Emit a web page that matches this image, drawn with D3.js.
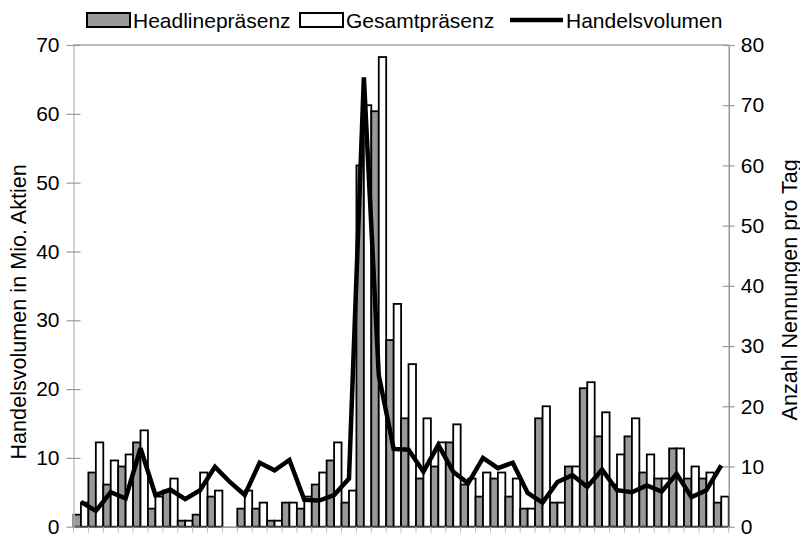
<!DOCTYPE html>
<html>
<head>
<meta charset="utf-8">
<script src="https://cdn.jsdelivr.net/npm/d3@7"></script>
<style>
  html, body { margin: 0; padding: 0; background: #fff; }
  svg { display: block; font-family: "Liberation Sans", Arial, sans-serif; }
</style>
</head>
<body>
<svg id="chart" width="800" height="534"></svg>
<script>
// ---- data ----
const categories = d3.range(1, 45).map(String);
const headline = [2, 9, 7, 10, 14, 3, 6, 1, 2, 5, 0, 3, 3, 1, 4, 3, 7, 11, 4, 60, 69, 31, 18, 8, 10, 14, 7, 5, 8, 5, 3, 18, 4, 10, 23, 15, 7, 15, 9, 8, 13, 8, 8, 4];
const gesamt   = [4, 14, 11, 12, 16, 5, 8, 1, 9, 6, 0, 6, 4, 1, 4, 5, 9, 14, 6, 70, 78, 37, 27, 18, 14, 17, 8, 9, 9, 8, 3, 20, 4, 10, 24, 19, 12, 18, 12, 8, 13, 10, 9, 5];
const volumen  = [3.6, 2.3, 5.0, 4.1, 11.4, 4.6, 5.4, 4.0, 5.3, 8.7, 6.5, 4.6, 9.3, 8.2, 9.7, 3.9, 3.8, 4.6, 7.0, 65.3, 22.0, 11.3, 11.2, 8.0, 11.9, 8.0, 6.3, 10.0, 8.5, 9.3, 4.9, 3.5, 6.5, 7.5, 5.8, 8.3, 5.3, 5.0, 6.0, 5.1, 7.7, 4.3, 5.3, 8.9];
const leftTicks  = [0, 10, 20, 30, 40, 50, 60, 70];
const rightTicks = [0, 10, 20, 30, 40, 50, 60, 70, 80];
const seriesNames = ["Headlinepräsenz", "Gesamtpräsenz", "Handelsvolumen"];
const leftTitle = "Handelsvolumen in Mio. Aktien";
const rightTitle = "Anzahl Nennungen pro Tag";

// ---- layout ----
const svg = d3.select("#chart");
const X0 = 73.5, X1 = 728.7, Y0 = 526.7, Y1 = 45;
const fs = 21;
const tfs = 21.6;
const axisColor = "#9a9a9a";

const x = d3.scaleBand().domain(categories).range([X0, X1]).paddingInner(0).paddingOuter(0);
const xs = d3.scaleBand().domain(["h", "g"]).range([0, x.bandwidth()]).padding(0);
const yL = d3.scaleLinear().domain([0, 70]).range([Y0, Y1]);
const yR = d3.scaleLinear().domain([0, 80]).range([Y0, Y1]);

// top border
svg.append("line").attr("x1", X0).attr("x2", X1).attr("y1", Y1).attr("y2", Y1)
  .attr("stroke", "#a8a8a8").attr("stroke-width", 1.3);

// bars
const g = svg.append("g");
categories.forEach((c, i) => {
  [["h", headline[i], "#999999"], ["g", gesamt[i], "#ffffff"]].forEach(([k, v, fill]) => {
    if (v <= 0) return;
    g.append("rect")
      .attr("x", x(c) + xs(k))
      .attr("y", yR(v))
      .attr("width", xs.bandwidth())
      .attr("height", Y0 - yR(v))
      .attr("fill", fill)
      .attr("stroke", "#000")
      .attr("stroke-width", 1.8);
  });
});

// left axis
const leftAxis = d3.axisLeft(yL).tickValues(leftTicks).tickSize(0).tickPadding(14);
const gl = svg.append("g").attr("transform", `translate(${X0},0)`).call(leftAxis);
gl.select(".domain").attr("stroke", "#c4c4c4").attr("stroke-width", 1.5);
gl.selectAll(".tick text").attr("font-size", fs).attr("fill", "#000")
  .attr("font-family", "Liberation Sans, Arial, sans-serif");
gl.selectAll(".tick").append("line").attr("x1", -7).attr("x2", 7).attr("stroke", axisColor).attr("stroke-width", 1.2);

// right axis
const rightAxis = d3.axisRight(yR).tickValues(rightTicks).tickSize(0).tickPadding(12);
const gr = svg.append("g").attr("transform", `translate(${X1},0)`).call(rightAxis);
gr.select(".domain").attr("stroke", "#8a8a8a").attr("stroke-width", 1.3);
gr.selectAll(".tick text").attr("font-size", fs).attr("fill", "#000")
  .attr("font-family", "Liberation Sans, Arial, sans-serif");
gr.selectAll(".tick").append("line").attr("x1", -6).attr("x2", 6).attr("stroke", axisColor).attr("stroke-width", 1.2);

// bottom axis
const bottomAxis = d3.axisBottom(x).tickSize(0).tickFormat("");
const gb = svg.append("g").attr("transform", `translate(0,${Y0})`).call(bottomAxis);
gb.select(".domain").attr("stroke", "#777").attr("stroke-width", 1.3);
const edges = categories.map(c => x(c)).concat([X1]);
gb.selectAll(".cattick").data(edges).enter().append("line")
  .attr("x1", d => d).attr("x2", d => d).attr("y1", 0).attr("y2", 6)
  .attr("stroke", "#bbb").attr("stroke-width", 1);

// line
const line = d3.line()
  .x((d, i) => x(categories[i]) + x.bandwidth() / 2)
  .y(d => yL(d));
svg.append("path").datum(volumen)
  .attr("d", line)
  .attr("fill", "none")
  .attr("stroke", "#000")
  .attr("stroke-width", 4.5)
  .attr("stroke-linejoin", "miter")
  .attr("stroke-miterlimit", 3);

// axis titles
svg.append("text")
  .attr("transform", `translate(18,${(Y0 + Y1) / 2 + 26}) rotate(-90)`)
  .attr("text-anchor", "middle").attr("dominant-baseline", "central")
  .attr("font-size", tfs).text(leftTitle);
svg.append("text")
  .attr("transform", `translate(789,${(Y0 + Y1) / 2 + 4}) rotate(-90)`)
  .attr("text-anchor", "middle").attr("dominant-baseline", "central")
  .attr("font-size", tfs).text(rightTitle);

// legend
const legend = svg.append("g");
const legItems = [
  { name: seriesNames[0], type: "rect", fill: "#999999", x: 87 },
  { name: seriesNames[1], type: "rect", fill: "#ffffff", x: 300 },
  { name: seriesNames[2], type: "line", x: 510 }
];
legItems.forEach(it => {
  if (it.type === "rect") {
    legend.append("rect").attr("x", it.x).attr("y", 13).attr("width", 43).attr("height", 14)
      .attr("fill", it.fill).attr("stroke", "#000").attr("stroke-width", 2);
  } else {
    legend.append("line").attr("x1", it.x).attr("x2", it.x + 53).attr("y1", 20).attr("y2", 20)
      .attr("stroke", "#000").attr("stroke-width", 4.5);
  }
  legend.append("text").attr("x", it.x + (it.type === "rect" ? 46 : 56)).attr("y", 20)
    .attr("dominant-baseline", "central").attr("font-size", fs).text(it.name);
});
</script>
</body>
</html>
